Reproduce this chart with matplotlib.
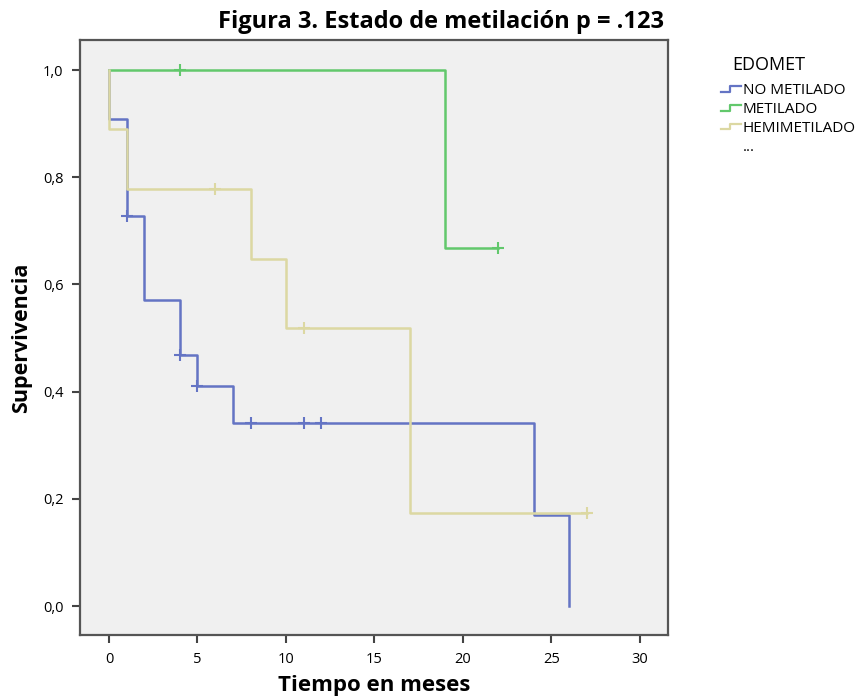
import matplotlib
matplotlib.use("Agg")
import matplotlib.pyplot as plt
from matplotlib.lines import Line2D
from matplotlib.legend_handler import HandlerBase

# Curvas de Kaplan-Meier por estado de metilacion
grupos = ["NO METILADO", "METILADO", "HEMIMETILADO"]
colores = ["#6474c4", "#62c86c", "#dcd8a2"]

tiempos_no = [0, 0, 1, 2, 4, 5, 7, 24, 26]
superv_no = [1.0, 0.909, 0.727, 0.571, 0.468, 0.41, 0.341, 0.17, 0.0]
cens_t_no = [1, 4, 5, 8, 11, 12]
cens_s_no = [0.727, 0.468, 0.41, 0.341, 0.341, 0.341]

tiempos_met = [0, 19, 22]
superv_met = [1.0, 0.667, 0.667]
cens_t_met = [4, 22]
cens_s_met = [1.0, 0.667]

tiempos_hemi = [0, 0, 1, 8, 10, 17, 27]
superv_hemi = [1.0, 0.889, 0.778, 0.648, 0.519, 0.173, 0.173]
cens_t_hemi = [6, 11, 27]
cens_s_hemi = [0.778, 0.519, 0.173]

xticks = [0, 5, 10, 15, 20, 25, 30]
yticks = [0.0, 0.2, 0.4, 0.6, 0.8, 1.0]
ytick_labels = ["0,0", "0,2", "0,4", "0,6", "0,8", "1,0"]

plt.rcParams['font.family'] = ['Open Sans', 'DejaVu Sans']


class StepHandler(HandlerBase):
    # icono en forma de escalon para la leyenda
    def create_artists(self, legend, orig_handle, xdescent, ydescent,
                       width, height, fontsize, trans):
        x0 = -xdescent
        y0 = -ydescent
        xs = [x0, x0 + width * 0.45, x0 + width * 0.45, x0 + width]
        ys = [y0 + height * 0.25, y0 + height * 0.25, y0 + height * 0.75, y0 + height * 0.75]
        ln = Line2D(xs, ys, color=orig_handle.get_color(), lw=1.6, transform=trans)
        return [ln]


fig = plt.figure(figsize=(8.59, 6.99), dpi=100)
ax = fig.add_axes([0.0931, 0.0916, 0.6845, 0.8512])
ax.set_facecolor("#f0f0f0")

datos = [
    (tiempos_no, superv_no, cens_t_no, cens_s_no),
    (tiempos_met, superv_met, cens_t_met, cens_s_met),
    (tiempos_hemi, superv_hemi, cens_t_hemi, cens_s_hemi),
]
handles = []
for (t, s, ct, cs), col, nombre in zip(datos, colores, grupos):
    h, = ax.step(t, s, where="post", color=col, lw=1.8, label=nombre)
    ax.plot(ct, cs, linestyle="none", marker="+", markersize=9,
            markeredgewidth=1.5, color=col)
    handles.append(h)

ax.set_xlim(-1.64, 31.58)
ax.set_ylim(-0.054, 1.056)
ax.set_xticks(xticks)
ax.set_xticklabels([str(v) for v in xticks], fontsize=10.5)
ax.set_yticks(yticks)
ax.set_yticklabels(ytick_labels, fontsize=10.5)
ax.tick_params(direction="out", length=6, width=1.5, color="#444444", pad=6)
for sp in ax.spines.values():
    sp.set_color("#555555")
    sp.set_linewidth(1.6)

ax.set_xlabel("Tiempo en meses", fontsize=16, fontweight="bold", labelpad=6)
ax.set_ylabel("Supervivencia", fontsize=15.5, fontweight="bold", labelpad=8)

fig.text(0.513, 0.968, "Figura 3. Estado de metilación p = .123",
         fontsize=17, fontweight="bold", ha="center", va="center")

extra = Line2D([], [], color="none")
leg = fig.legend(handles + [extra], grupos + ["..."],
                 handler_map={h: StepHandler() for h in handles},
                 title="EDOMET", loc="upper left",
                 bbox_to_anchor=(0.823, 0.94), frameon=False,
                 fontsize=11, title_fontsize=13, handlelength=1.3,
                 handletextpad=0.15, labelspacing=0.25)
leg._legend_box.align = "left"
leg._legend_box.sep = 7
leg.get_title().set_position((12, 0))

fig.savefig("out.png", dpi=100)
